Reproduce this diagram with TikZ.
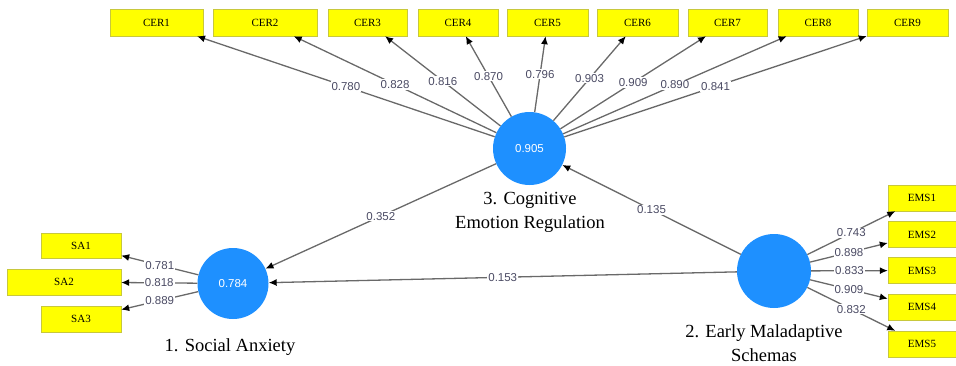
\documentclass[tikz,border=0pt]{standalone}
\usepackage{fontspec}
\setmainfont{Liberation Serif}
\newfontfamily\numfont{Liberation Sans}
\usetikzlibrary{arrows.meta}
\definecolor{plsblue}{RGB}{30,144,255}
\definecolor{plsyellow}{RGB}{255,255,0}
\definecolor{plsedge}{RGB}{200,200,60}
\definecolor{plsline}{RGB}{105,105,105}
\definecolor{plstext}{RGB}{75,75,100}
\tikzset{
  ind/.style={draw=plsedge, fill=plsyellow, minimum height=26pt, inner sep=1pt, font=\fontsize{11}{12}\selectfont},
  lv/.style={circle, fill=plsblue, inner sep=0pt, text=white, font=\numfont\fontsize{11.5}{13}\selectfont},
  load/.style={draw=plsline, line width=1.3pt, -{Latex[length=8pt,width=7pt,color=black]}},
  coef/.style={fill=white, inner sep=1pt, text=plstext, font=\numfont\fontsize{11.5}{13}\selectfont},
  lvname/.style={align=center, font=\fontsize{18.5}{24}\selectfont}
}

\begin{document}
\begin{tikzpicture}[x=1pt,y=-1pt]
    \useasboundingbox (0,0) rectangle (956,365);
    % latent variables
    \node[lv, minimum size=73pt] (cer) at (529.5,148.5) {0.905};
    \node[lv, minimum size=71pt] (sa) at (233,283.5) {0.784};
    \node[lv, minimum size=74pt] (ems) at (774,271) {};
    \node[lvname] (cername) at (530,212) {3. Cognitive\\Emotion Regulation};
    \node[lvname] (saname) at (230,347) {1. Social Anxiety};
    \node[lvname] (emsname) at (764,343) {2. Early Maladaptive\\Schemas};
    % indicators
    \node[ind, minimum width=93pt, minimum height=27pt] (cer1) at (156.5,22.5) {CER1};
    \node[ind, minimum width=104pt, minimum height=27pt] (cer2) at (265,22.5) {CER2};
    \node[ind, minimum width=79pt, minimum height=27pt] (cer3) at (367.5,22.5) {CER3};
    \node[ind, minimum width=80pt, minimum height=27pt] (cer4) at (458,22.5) {CER4};
    \node[ind, minimum width=81pt, minimum height=27pt] (cer5) at (547.5,22.5) {CER5};
    \node[ind, minimum width=81pt, minimum height=27pt] (cer6) at (637.5,22.5) {CER6};
    \node[ind, minimum width=79pt, minimum height=27pt] (cer7) at (727.5,22.5) {CER7};
    \node[ind, minimum width=80pt, minimum height=27pt] (cer8) at (818,22.5) {CER8};
    \node[ind, minimum width=81pt, minimum height=27pt] (cer9) at (907.5,22.5) {CER9};
    \node[ind, minimum width=80pt, minimum height=25pt] (sa1) at (81,245.5) {SA1};
    \node[ind, minimum width=114pt] (sa2) at (64,282) {SA2};
    \node[ind, minimum width=80pt] (sa3) at (81,319) {SA3};
    \node[ind, minimum width=68pt] (ems1) at (922,198) {EMS1};
    \node[ind, minimum width=68pt] (ems2) at (922,234.5) {EMS2};
    \node[ind, minimum width=68pt] (ems3) at (922,270.5) {EMS3};
    \node[ind, minimum width=68pt] (ems4) at (922,307) {EMS4};
    \node[ind, minimum width=68pt] (ems5) at (922,344) {EMS5};
    % outer loadings
    \draw[load] (cer) -- (cer1) node[coef, midway] {0.780};
    \draw[load] (cer) -- (cer2) node[coef, midway] {0.828};
    \draw[load] (cer) -- (cer3) node[coef, midway] {0.816};
    \draw[load] (cer) -- (cer4) node[coef, midway] {0.870};
    \draw[load] (cer) -- (cer5) node[coef, midway] {0.796};
    \draw[load] (cer) -- (cer6) node[coef, midway] {0.903};
    \draw[load] (cer) -- (cer7) node[coef, midway] {0.909};
    \draw[load] (cer) -- (cer8) node[coef, midway] {0.890};
    \draw[load] (cer) -- (cer9) node[coef, midway] {0.841};
    \draw[load] (sa) -- (sa1) node[coef, midway] {0.781};
    \draw[load] (sa) -- (sa2) node[coef, midway] {0.818};
    \draw[load] (sa) -- (sa3) node[coef, midway] {0.889};
    \draw[load] (ems) -- (ems1) node[coef, midway] {0.743};
    \draw[load] (ems) -- (ems2) node[coef, midway] {0.898};
    \draw[load] (ems) -- (ems3) node[coef, midway] {0.833};
    \draw[load] (ems) -- (ems4) node[coef, midway] {0.909};
    \draw[load] (ems) -- (ems5) node[coef, midway] {0.832};
    % path coefficients
    \draw[load] (cer) -- (sa) node[coef, midway] {0.352};
    \draw[load] (ems) -- (cer) node[coef, midway] {0.135};
    \draw[load] (ems) -- (sa) node[coef, midway] {0.153};
\end{tikzpicture}
\end{document}
